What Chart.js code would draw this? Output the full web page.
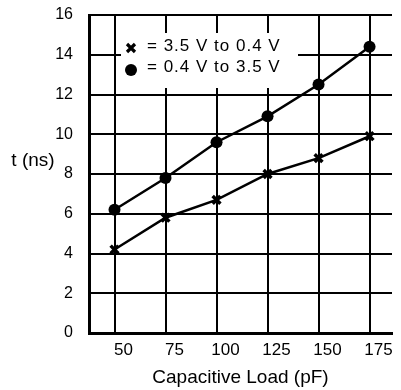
<!DOCTYPE html>
<html>
<head>
<meta charset="utf-8">
<script src="https://cdn.jsdelivr.net/npm/chart.js@4/dist/chart.umd.min.js"></script>
<style>
  html, body { margin: 0; padding: 0; background: #fff; }
  #wrap { width: 401px; height: 390px; }
</style>
</head>
<body>
<div id="wrap"><canvas id="c" width="401" height="390"></canvas></div>
<script>
// ---- data ----
const capacitance = [50, 75, 100, 125, 150, 175];          // pF
const fallTime = [4.2, 5.8, 6.7, 8.0, 8.8, 9.9];           // 3.5 V to 0.4 V (x)
const riseTime = [6.2, 7.8, 9.6, 10.9, 12.5, 14.4];        // 0.4 V to 3.5 V (dot)
const seriesLabels = ['3.5 V to 0.4 V', '0.4 V to 3.5 V'];
const xTicks = [50, 75, 100, 125, 150, 175];
const yTicks = [0, 2, 4, 6, 8, 10, 12, 14, 16];
const xTitle = 'Capacitive Load (pF)';
const yTitle = 't (ns)';

const FONT = "'Liberation Sans', Arial, Helvetica, sans-serif";

const toPts = (ys) => capacitance.map((x, i) => ({ x: x, y: ys[i] }));

const legendPlugin = {
  id: 'insideLegend',
  beforeDatasetsDraw(chart) {
    const ctx = chart.ctx;
    ctx.save();
    // white mask behind legend
    ctx.fillStyle = '#fff';
    ctx.fillRect(121, 33, 177, 55);
    const rows = [
      { ds: chart.data.datasets[0], mx: 131, my: 48, ty: 46 },
      { ds: chart.data.datasets[1], mx: 131, my: 70, ty: 67.5 }
    ];
    rows.forEach(r => {
      ctx.fillStyle = '#000';
      ctx.strokeStyle = '#000';
      if (r.ds.pointStyle === 'circle') {
        ctx.beginPath(); ctx.arc(r.mx, r.my, 6, 0, Math.PI * 2); ctx.fill();
      } else {
        const s = 4;
        ctx.lineWidth = 3.2;
        ctx.beginPath();
        ctx.moveTo(r.mx - s, r.my - s); ctx.lineTo(r.mx + s, r.my + s);
        ctx.moveTo(r.mx + s, r.my - s); ctx.lineTo(r.mx - s, r.my + s);
        ctx.stroke();
      }
      ctx.font = '17px ' + FONT;
      ctx.letterSpacing = '1px';
      ctx.textAlign = 'left';
      ctx.textBaseline = 'middle';
      ctx.fillText('= ' + r.ds.label, 147, r.ty);
    });
    ctx.restore();
  },
  afterDraw(chart) {
    const ctx = chart.ctx;
    ctx.save();
    ctx.fillStyle = '#000';
    ctx.font = '19px ' + FONT;
    ctx.textAlign = 'center';
    ctx.textBaseline = 'middle';
    ctx.fillText(yTitle, 33, 161);
    ctx.restore();
  }
};

new Chart(document.getElementById('c'), {
  type: 'line',
  data: {
    datasets: [
      {
        label: seriesLabels[0],
        data: toPts(fallTime),
        borderColor: '#000',
        backgroundColor: '#000',
        borderWidth: 2.5,
        pointStyle: 'crossRot',
        pointRadius: 5.5,
        pointBorderWidth: 3.5,
        tension: 0
      },
      {
        label: seriesLabels[1],
        data: toPts(riseTime),
        borderColor: '#000',
        backgroundColor: '#000',
        borderWidth: 2.5,
        pointStyle: 'circle',
        pointRadius: 6,
        pointBorderWidth: 0,
        tension: 0
      }
    ]
  },
  options: {
    responsive: false,
    animation: false,
    layout: { padding: { top: 15, right: 0, bottom: 0, left: 0 } },
    plugins: { legend: { display: false }, tooltip: { enabled: false } },
    scales: {
      x: {
        type: 'linear',
        min: 37.5,
        max: 186,
        afterBuildTicks(scale) { scale.ticks = xTicks.map(v => ({ value: v })); },
        afterFit(scale) { scale.height = 57; scale.paddingLeft = 0; scale.paddingRight = 0; },
        grid: { color: '#000', lineWidth: 2, drawTicks: false },
        border: { color: '#000', width: 3 },
        ticks: { color: '#000', font: { family: FONT, size: 17 }, padding: 7, labelOffset: 9, maxRotation: 0 },
        title: { display: true, text: xTitle, color: '#000', font: { family: FONT, size: 19 }, padding: { top: 0, bottom: 1 } }
      },
      y: {
        min: 0,
        max: 16,
        afterBuildTicks(scale) { scale.ticks = yTicks.map(v => ({ value: v })); },
        afterFit(scale) { scale.width = 89; scale.paddingTop = 0; scale.paddingBottom = 0; },
        grid: { color: '#000', lineWidth: 2, drawTicks: false },
        border: { color: '#000', width: 3 },
        ticks: { color: '#000', font: { family: FONT, size: 16 }, padding: 16 }
      }
    }
  },
  plugins: [legendPlugin]
});
</script>
</body>
</html>
